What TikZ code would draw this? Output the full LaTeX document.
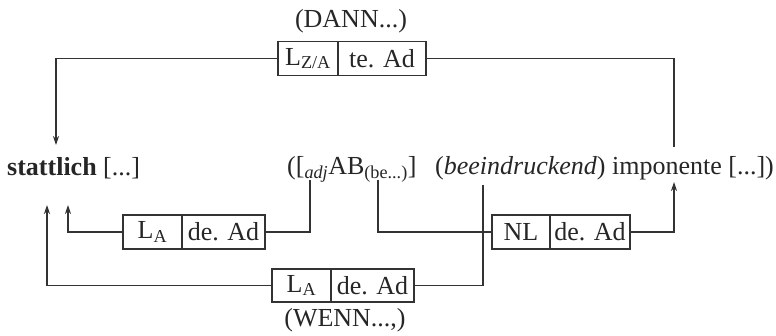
\documentclass[tikz,border=0pt]{standalone}
\usepackage{fontspec}
\setmainfont{Liberation Serif}
\usetikzlibrary{arrows.meta}
\begin{document}
\begin{tikzpicture}[x=1pt,y=-1pt,
  every node/.style={font=\fontsize{26}{30}\selectfont, text=black!85},
  cell/.style={draw=black!80, line width=1.1pt, inner sep=0pt, minimum height=34pt},
  wire/.style={line width=1.1pt, draw=black!80},
  arr/.style={wire, -{Stealth[length=9pt,width=6pt]}},
  txt/.style={anchor=base west, inner sep=0pt}]
\useasboundingbox (0,0) rectangle (776,335);
% texts
\node[anchor=base, inner sep=0pt] (dann) at (351,27) {(DANN...)};
\node[txt] (stat) at (7,175) {\textbf{stattlich} [...]};
\node[txt] (ab) at (287,174) {([\textsubscript{\textit{adj}}AB\textsubscript{(be...)}]};
\node[txt] (imp) at (435,174) {(\textit{beeindruckend}) imponente [...])};
\node[anchor=base, inner sep=0pt] (wenn) at (345,326) {(WENN...,)};
% top box
\node[cell, minimum width=60pt] (tl) at (308,58.5) {L\textsubscript{Z/A}};
\node[cell, minimum width=88pt] (tr) at (382,58.5) {te. Ad};
% middle-left box
\node[cell, minimum width=59pt] (ml) at (152.5,232) {L\textsubscript{A}};
\node[cell, minimum width=83pt] (mr) at (223.5,232) {de. Ad};
% bottom box
\node[cell, minimum width=59pt, minimum height=33pt] (bl) at (301.5,285.5) {L\textsubscript{A}};
\node[cell, minimum width=83pt, minimum height=33pt] (br) at (372.5,285.5) {de. Ad};
% NL box
\node[cell, minimum width=58pt] (nl) at (521,232) {NL};
\node[cell, minimum width=80pt] (nr) at (590,232) {de. Ad};
% connectors
\coordinate (c1) at (56,145);
\draw[arr] (tl.west) -| (c1);
\coordinate (c2) at (674,147);
\draw[wire] (tr.east) -| (c2);
\coordinate (c3) at (68,205);
\draw[arr] (ml.west) -| (c3);
\coordinate (c4) at (310,180);
\draw[wire] (mr.east) -| (c4);
\coordinate (c5) at (47,205);
\draw[arr] (bl.west) -| (c5);
\coordinate (c6) at (483,185);
\draw[wire] (br.east) -| (c6);
\coordinate (c7) at (378,180);
\draw[wire] (c7) |- (nl.west);
\coordinate (c8) at (674,182);
\draw[arr] (nr.east) -| (c8);
\end{tikzpicture}
\end{document}
